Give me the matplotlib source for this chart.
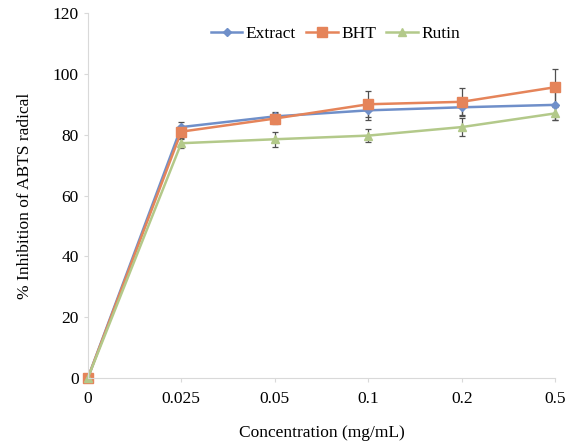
import numpy as np
import matplotlib
matplotlib.use("Agg")
import matplotlib.pyplot as plt
from matplotlib.lines import Line2D

# Data
concentrations = ["0", "0.025", "0.05", "0.1", "0.2", "0.5"]
extract = [0, 82.5, 86.0, 88.0, 89.0, 89.8]
extract_err = [0, 1.8, 1.5, 3.3, 3.0, 5.0]
bht = [0, 81.0, 85.3, 90.0, 90.8, 95.6]
bht_err = [0, 2.0, 1.8, 4.3, 4.4, 6.0]
rutin = [0, 77.2, 78.5, 79.7, 82.5, 87.0]
rutin_err = [0, 1.5, 2.4, 2.2, 3.0, 2.2]

plt.rcParams['font.family'] = ['Liberation Serif', 'DejaVu Serif']

fig = plt.figure(figsize=(5.7, 4.46), dpi=100)
ax = fig.add_axes([0.154, 0.152, 0.82, 0.819])

x = np.arange(len(concentrations))
series = [
    ("Extract", extract, extract_err, "#6f8fc9", "D", 4.5),
    ("BHT", bht, bht_err, "#e5845a", "s", 6.5),
    ("Rutin", rutin, rutin_err, "#b3c98a", "^", 6),
]
handles = []
for name, vals, err, col, mk, ms in series:
    ax.errorbar(x, vals, yerr=err, color=col, marker=mk, markersize=ms,
                linewidth=1.8, ecolor="#505050", elinewidth=0.9, capsize=2,
                capthick=0.9, clip_on=False)
    handles.append(Line2D([], [], color=col, marker=mk, markersize=ms,
                          linewidth=1.8, label=name))

ax.set_xlim(0, len(concentrations) - 1)
ax.set_ylim(0, 120)
ax.set_yticks(np.arange(0, 121, 20))
ax.set_xticks(x)
ax.set_xticklabels(concentrations)

for s in ["top", "right"]:
    ax.spines[s].set_visible(False)
for s in ["left", "bottom"]:
    ax.spines[s].set_color("#d9d9d9")
ax.tick_params(axis='both', labelsize=12.5, color="#d9d9d9", length=3)
ax.tick_params(axis='x', pad=6)

ax.set_xlabel("Concentration (mg/mL)", fontsize=12.5, labelpad=13)
ax.set_ylabel("% Inhibition of ABTS radical", fontsize=12.5, labelpad=14)

ax.legend(handles=handles, loc="upper center", bbox_to_anchor=(0.53, 1.008),
          ncol=3, frameon=False, fontsize=12.5, handlelength=1.8,
          handletextpad=0.2, columnspacing=0.6)

fig.savefig("out.png", dpi=100)
plt.close(fig)
